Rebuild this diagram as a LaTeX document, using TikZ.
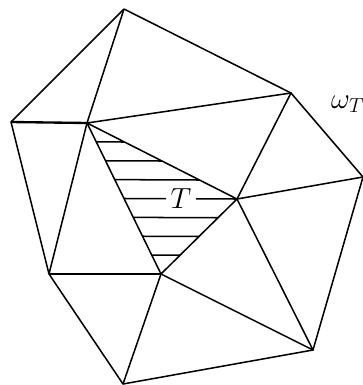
\documentclass[tikz,border=0pt]{standalone}
\usetikzlibrary{calc}
\tikzset{
  edge/.style={line width=1.3pt, line join=round},
  boldedge/.style={line width=2pt},
  hatch/.style={line width=1.3pt}
}
\begin{document}
\begin{tikzpicture}[x=0.03cm, y=-0.03cm, font=\fontsize{25}{30}\selectfont]
  \useasboundingbox (0,0) rectangle (363,385);

  % vertices of the patch
  \coordinate (top)   at (124,9);
  \coordinate (ne)    at (291,93);
  \coordinate (west)  at (11,122);
  \coordinate (ta)    at (87,123);
  \coordinate (tb)    at (237,199);
  \coordinate (east)  at (363,177);
  \coordinate (tc)    at (161,274);
  \coordinate (sw)    at (49,274);
  \coordinate (south) at (123,384);
  \coordinate (se)    at (313,350);

  % hatching of T
  \foreach \i in {1,2,3} {
    \draw[hatch] ($(ta)!\i/8!(tc)$) -- ($(ta)!\i/4!(tb)$);
  }
  \draw[hatch] ($(ta)!0.5!(tc)$) -- (tb);
  \foreach \i in {1,2,3} {
    \draw[hatch] ($(ta)!{(\i+4)/8}!(tc)$) -- ($(tb)!\i/4!(tc)$);
  }
  \node[fill=white, inner sep=4pt] (lblT) at (181,199) {$T$};

  % edges
  \draw[edge] (top) -- (ne) -- (east) -- (se) -- (south) -- (sw) -- (west) -- (top);
  \draw[edge] (top) -- (ta) -- (ne) -- (tb) -- (east);
  \draw[edge] (ta) -- (tb) -- (tc) -- cycle;
  \draw[edge] (ta) -- (sw);
  \draw[edge] (tc) -- (south);
  \draw[edge] (tc) -- (se) -- (tb);
  \draw[boldedge] (west) -- (ta);
  \draw[boldedge] (sw) -- (tc);

  % patch label
  \node[anchor=base west, inner sep=0pt] (lblomega) at (331,108) {$\omega_T$};
\end{tikzpicture}
\end{document}
